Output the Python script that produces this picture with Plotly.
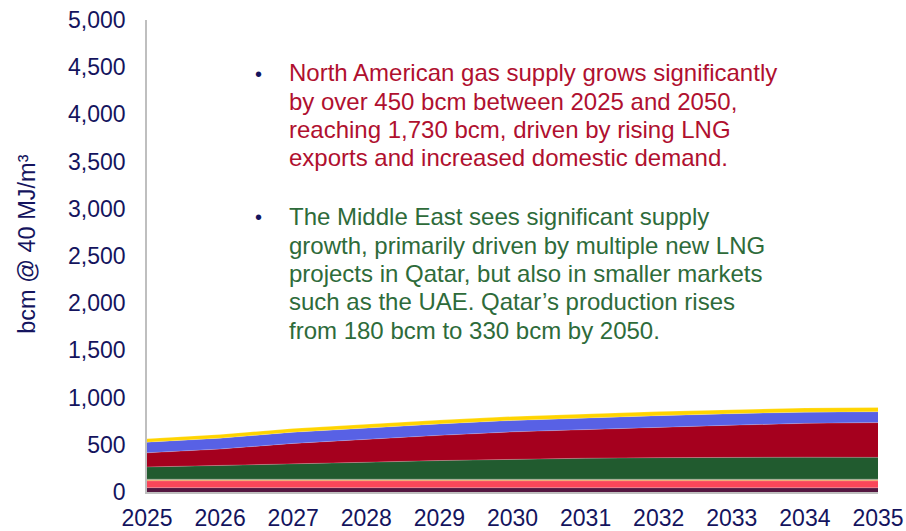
import plotly.graph_objects as go

years = [2025, 2026, 2027, 2028, 2029, 2030, 2031, 2032, 2033, 2034, 2035]
purple = [46, 46, 46, 45, 45, 45, 45, 44, 44, 44, 44]
red = [72, 72, 72, 73, 73, 73, 73, 74, 74, 74, 74]
orange = [10, 10, 10, 10, 10, 10, 10, 10, 10, 10, 10]
tan = [8, 8, 8, 8, 8, 8, 8, 8, 8, 8, 8]
green = [129, 144, 161, 179, 197, 212, 222, 228, 232, 233, 231]
darkred = [150, 175, 218, 245, 267, 289, 305, 323, 340, 358, 368]
blue = [113, 115, 118, 120, 121, 121, 122, 122, 121, 119, 115]
yellow = [36, 40, 40, 41, 41, 42, 42, 43, 43, 44, 45]

series = [purple, red, orange, tan, green, darkred, blue, yellow]
colors = ["#541640", "#FA4659", "#E8892B", "#A89878", "#215B2F", "#A5001E", "#5861E5", "#FFD400"]
names = ["Series 1", "Series 2", "Series 3", "Series 4", "Series 5", "Series 6", "Series 7", "Series 8"]

y_ticks = list(range(0, 5001, 500))
y_ticktext = [f"{v:,}" for v in y_ticks]

block1_lines = ["North American gas supply grows significantly",
                "by over 450 bcm between 2025 and 2050,",
                "reaching 1,730 bcm, driven by rising LNG",
                "exports and increased domestic demand."]
block2_lines = ["The Middle East sees significant supply",
                "growth, primarily driven by multiple new LNG",
                "projects in Qatar, but also in smaller markets",
                "such as the UAE. Qatar’s production rises",
                "from 180 bcm to 330 bcm by 2050."]

FONT = "Liberation Sans, Arial, sans-serif"
NAVY = "#14145E"
RED_TXT = "#B0102F"
GREEN_TXT = "#2E6B3A"

fig = go.Figure()
for vals, col, nm in zip(series, colors, names):
    fig.add_trace(go.Scatter(
        x=years, y=vals, name=nm, mode="lines", stackgroup="one",
        line=dict(width=0.6, color="rgba(255,255,255,0.35)"),
        fillcolor=col, hoverinfo="skip", showlegend=False,
    ))

L, R, T, B = 147, 28, 20, 38.5
W, H = 906, 531
pw, ph = W - L - R, H - T - B

def px(x):
    return (x - L) / pw

def py(y):
    return (H - B - y) / ph

fig.update_layout(
    width=W, height=H,
    margin=dict(l=L, r=R, t=T, b=B, autoexpand=False),
    paper_bgcolor="white", plot_bgcolor="white",
    font=dict(family=FONT, size=23, color=NAVY),
    xaxis=dict(range=[2025, 2035], tickmode="array", tickvals=years,
               ticktext=[str(y) for y in years], showgrid=False, zeroline=False,
               showline=True, linecolor="#BFBFBF", linewidth=1.5, ticks="",
               ticklabelstandoff=5, tickfont=dict(size=23, color=NAVY, family=FONT)),
    yaxis=dict(range=[0, 5000], tickmode="array", tickvals=y_ticks,
               ticktext=y_ticktext, showgrid=False,
               zeroline=False, showline=True, linecolor="#BFBFBF", linewidth=1.5,
               ticks="", ticklabelstandoff=15, tickfont=dict(size=23, color=NAVY, family=FONT)),
)

fig.add_annotation(xref="paper", yref="paper", x=px(27), y=py(245), text="bcm @ 40 MJ/m³",
                   textangle=-90, showarrow=False, xanchor="center", yanchor="middle",
                   font=dict(size=23.5, color=NAVY, family=FONT))

FS = 24
def add_block(lines, first_baseline, color):
    for i, line in enumerate(lines):
        base = first_baseline + i * 28.35
        fig.add_annotation(xref="paper", yref="paper", x=px(287), y=py(base - 0.93 * FS),
                           text=line, showarrow=False, xanchor="left", yanchor="top",
                           font=dict(size=FS, color=color, family=FONT))

add_block(block1_lines, 79.8, RED_TXT)
add_block(block2_lines, 223.8, GREEN_TXT)

for by in (74, 217):
    fig.add_annotation(xref="paper", yref="paper", x=px(258), y=py(by), text="•",
                       showarrow=False, xanchor="center", yanchor="middle",
                       font=dict(size=20, color=NAVY, family=FONT))

fig.write_html("out.html")
